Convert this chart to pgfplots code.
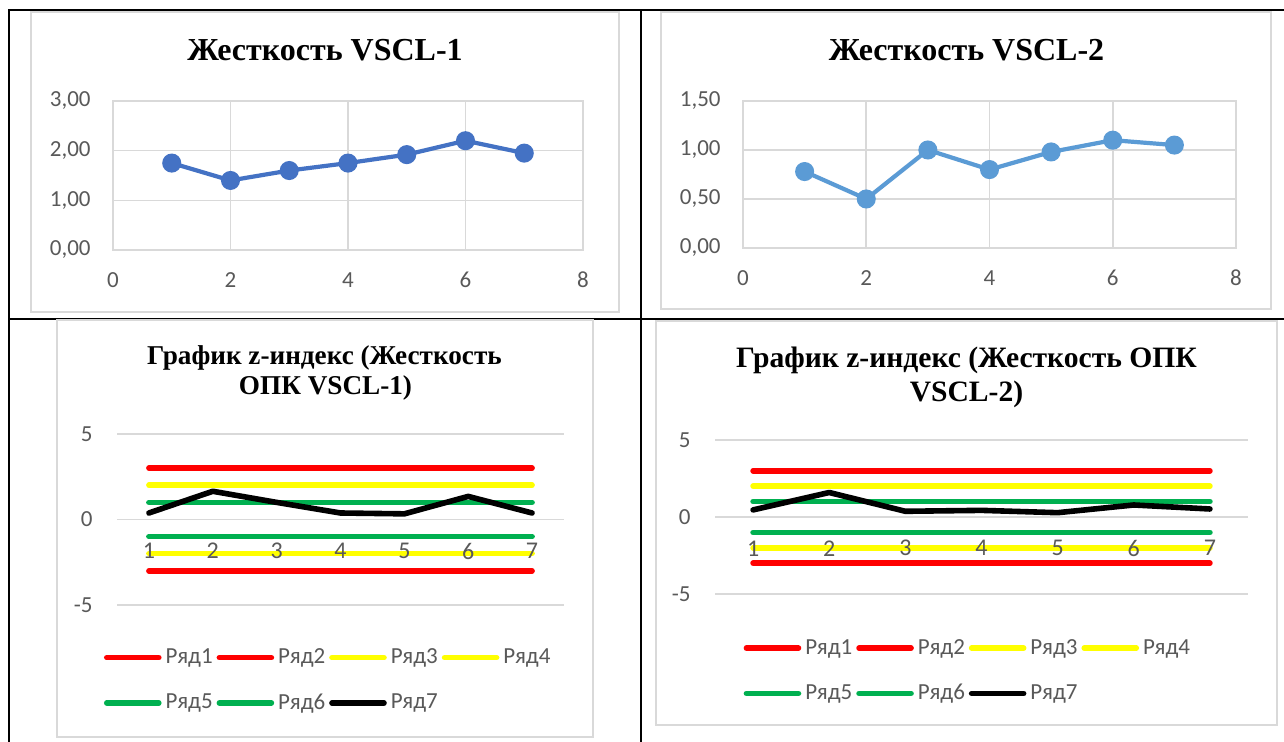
\documentclass[border=0pt]{standalone}
\usepackage{pgfplots}
\pgfplotsset{compat=1.18}
\usepackage{fontspec}
\setmainfont{Carlito}
\newfontfamily\titlefont{Liberation Serif}

\definecolor{txtgray}{HTML}{595959}
\definecolor{gridgray}{HTML}{D9D9D9}
\definecolor{blueA}{HTML}{4472C4}
\definecolor{blueB}{HTML}{5B9BD5}
\definecolor{zred}{HTML}{FF0000}
\definecolor{zyellow}{HTML}{FFFF00}
\definecolor{zgreen}{HTML}{00B050}

\pgfplotsset{
  % scatter charts of stiffness
  stiff/.style={
    scale only axis, anchor=south west,
    axis line style={gridgray, line width=0.9pt},
    grid style={gridgray, line width=0.8pt},
    xmajorgrids, ymajorgrids,
    major tick length=0pt,
    tick label style={font=\fontsize{11.5}{13}\selectfont, text=txtgray},
    xticklabel style={anchor=center, yshift=-15pt},
    /pgf/number format/assume math mode=true,
    clip=false,
    yticklabel style={anchor=east, inner sep=0pt, xshift=-11pt,
      /pgf/number format/fixed, /pgf/number format/fixed zerofill,
      /pgf/number format/precision=2, /pgf/number format/use comma},
  },
  % z-index control charts
  zplot/.style={
    scale only axis, anchor=south west, axis on top,
    xmin=0.5, xmax=7.5, ymin=-5, ymax=5,
    xtick={1,...,7}, ytick={-5,0,5},
    ymajorgrids, grid style={gridgray, line width=0.9pt},
    axis line style={draw=none},
    major tick length=0pt,
    tick label style={font=\fontsize{11.5}{13}\selectfont, text=txtgray},
    xticklabel style={anchor=center, font=\fontsize{12}{13}\selectfont},
    yticklabel style={anchor=east, inner sep=0pt, xshift=-12pt},
    /pgf/number format/assume math mode=true,
    clip=false,
    every axis plot/.append style={line width=2.8pt, line cap=round, line join=round, no markers},
    legend columns=4,
    legend image code/.code={\draw[#1] (0pt,0pt) -- (26pt,0pt);},
    legend style={draw=none, fill=none, inner sep=0pt, anchor=north west,
      font=\fontsize{11.5}{13}\selectfont, text=txtgray,
      /tikz/every even column/.append style={column sep=0pt}, row sep=9.5pt},
  },
}

\newcommand{\lbl}[1]{\makebox[23.5pt][l]{#1}}

\begin{document}
\begin{tikzpicture}[x=1pt, y=1pt]
\useasboundingbox (0,0) rectangle (642,371);

% table rules
\draw[black, line width=1pt] (4,366) -- (642,366);
\draw[black, line width=1pt] (4.5,366) -- (4.5,0);
\draw[black, line width=1pt] (320.5,366) -- (320.5,0);
\draw[black, line width=1pt] (4,211.5) -- (642,211.5);

% chart areas
\draw[gridgray, line width=0.8pt, fill=white] (15.5,215) rectangle (309.5,365);
\draw[gridgray, line width=0.8pt, fill=white] (330.5,216.5) rectangle (635.5,365);
\draw[gridgray, line width=0.8pt, fill=white] (28.5,2.5) rectangle (296.5,211);
\draw[gridgray, line width=0.8pt, fill=white] (328,8.5) rectangle (638.5,210.5);

% titles
\node[anchor=base, font=\titlefont\bfseries\fontsize{16}{18}\selectfont] at (162.5,340.5) {Жесткость VSCL-1};
\node[anchor=base, font=\titlefont\bfseries\fontsize{16}{18}\selectfont] at (483.25,340.5) {Жесткость VSCL-2};
\node[anchor=base, font=\titlefont\bfseries\fontsize{13.6}{15}\selectfont] at (162.25,188.6) {График z-индекс (Жесткость};
\node[anchor=base, font=\titlefont\bfseries\fontsize{13.6}{15}\selectfont] at (162.75,173.6) {ОПК VSCL-1)};
\node[anchor=base, font=\titlefont\bfseries\fontsize{14.8}{17}\selectfont] at (483.25,187.3) {График z-индекс (Жесткость ОПК};
\node[anchor=base, font=\titlefont\bfseries\fontsize{14.8}{17}\selectfont] at (483.25,170.3) {VSCL-2)};

% stiffness VSCL-1
\begin{axis}[stiff, at={(56.5pt,246pt)}, width=235pt, height=74.5pt,
  xmin=0, xmax=8, xtick={0,2,4,6,8}, ymin=0, ymax=3, ytick={0,1,2,3}]
\addplot[blueA, line width=2.1pt, mark=*, mark size=3.7pt] coordinates {
  (1,1.75) (2,1.40) (3,1.60) (4,1.75) (5,1.92) (6,2.20) (7,1.95)};
\end{axis}

% stiffness VSCL-2
\begin{axis}[stiff, at={(371.5pt,247pt)}, width=246.5pt, height=73.5pt,
  xmin=0, xmax=8, xtick={0,2,4,6,8}, ymin=0, ymax=1.5, ytick={0,0.5,1,1.5}]
\addplot[blueB, line width=2.1pt, mark=*, mark size=3.7pt] coordinates {
  (1,0.78) (2,0.50) (3,1.00) (4,0.80) (5,0.98) (6,1.10) (7,1.05)};
\end{axis}

% z-index VSCL-1
\begin{axis}[zplot, at={(58.5pt,68.5pt)}, width=223.5pt, height=85.5pt,
  xticklabel style={yshift=27pt},
  legend style={at={(-0.03,-0.23)}}]
\addplot[zred]    coordinates {(1,3) (2,3) (3,3) (4,3) (5,3) (6,3) (7,3)};
\addlegendentry{\lbl{Ряд1}}
\addplot[zred]    coordinates {(1,-3) (2,-3) (3,-3) (4,-3) (5,-3) (6,-3) (7,-3)};
\addlegendentry{\lbl{Ряд2}}
\addplot[zyellow] coordinates {(1,2) (2,2) (3,2) (4,2) (5,2) (6,2) (7,2)};
\addlegendentry{\lbl{Ряд3}}
\addplot[zyellow] coordinates {(1,-2) (2,-2) (3,-2) (4,-2) (5,-2) (6,-2) (7,-2)};
\addlegendentry{\lbl{Ряд4}}
\addplot[zgreen]  coordinates {(1,1) (2,1) (3,1) (4,1) (5,1) (6,1) (7,1)};
\addlegendentry{\lbl{Ряд5}}
\addplot[zgreen]  coordinates {(1,-1) (2,-1) (3,-1) (4,-1) (5,-1) (6,-1) (7,-1)};
\addlegendentry{\lbl{Ряд6}}
\addplot[black]   coordinates {(1,0.38) (2,1.65) (3,1.00) (4,0.38) (5,0.33) (6,1.35) (7,0.38)};
\addlegendentry{\lbl{Ряд7}}
\end{axis}

% z-index VSCL-2
\begin{axis}[zplot, at={(357.5pt,74pt)}, width=266.5pt, height=77pt,
  xticklabel style={yshift=22.85pt},
  legend style={at={(0.053,-0.265)}}]
\addplot[zred]    coordinates {(1,3) (2,3) (3,3) (4,3) (5,3) (6,3) (7,3)};
\addlegendentry{\lbl{Ряд1}}
\addplot[zred]    coordinates {(1,-3) (2,-3) (3,-3) (4,-3) (5,-3) (6,-3) (7,-3)};
\addlegendentry{\lbl{Ряд2}}
\addplot[zyellow] coordinates {(1,2) (2,2) (3,2) (4,2) (5,2) (6,2) (7,2)};
\addlegendentry{\lbl{Ряд3}}
\addplot[zyellow] coordinates {(1,-2) (2,-2) (3,-2) (4,-2) (5,-2) (6,-2) (7,-2)};
\addlegendentry{\lbl{Ряд4}}
\addplot[zgreen]  coordinates {(1,1) (2,1) (3,1) (4,1) (5,1) (6,1) (7,1)};
\addlegendentry{\lbl{Ряд5}}
\addplot[zgreen]  coordinates {(1,-1) (2,-1) (3,-1) (4,-1) (5,-1) (6,-1) (7,-1)};
\addlegendentry{\lbl{Ряд6}}
\addplot[black]   coordinates {(1,0.46) (2,1.59) (3,0.37) (4,0.43) (5,0.28) (6,0.78) (7,0.52)};
\addlegendentry{\lbl{Ряд7}}
\end{axis}
\end{tikzpicture}
\end{document}
